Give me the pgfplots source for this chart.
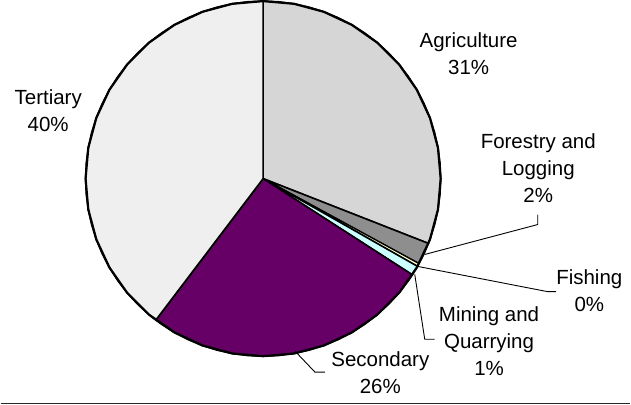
\documentclass[border=0pt]{standalone}
\usepackage{fontspec}
\setmainfont{Liberation Sans}
\usepackage{pgfplots}
\pgfplotsset{compat=1.18}
\usepgfplotslibrary{polar}
\definecolor{agri}{HTML}{D6D6D6}
\definecolor{forest}{HTML}{8E8E8E}
\definecolor{fish}{HTML}{FFFFCC}
\definecolor{mining}{HTML}{CCFFFF}
\definecolor{second}{HTML}{660066}
\definecolor{tert}{HTML}{EFEFEF}
\begin{document}
\begin{tikzpicture}
\begin{axis}[
  x=1bp, y=1bp,
  xmin=-263, xmax=368, ymin=-227, ymax=179,
  hide axis, clip=false,
  every axis plot/.append style={line join=round},
]
% Shares (percent): Agriculture 31.0, Forestry and Logging 2.0, Fishing 0.3,
% Mining and Quarrying 0.9, Secondary 26.2, Tertiary 39.7 -- as polar angles, radius 178
\addplot[data cs=polar, fill=agri, draw=black, line width=1.6bp] coordinates {
 (0,0) (90,178) (85,178) (80,178) (75,178) (70,178) (65,178) (60,178) (55,178) (50,178)
 (45,178) (40,178) (35,178) (30,178) (25,178) (20,178) (15,178) (10,178) (5,178) (0,178)
 (-5,178) (-10,178) (-15,178) (-20,178) (-21.4,178) (0,0)} -- cycle;
\addplot[data cs=polar, fill=forest, draw=black, line width=1.6bp] coordinates {
 (0,0) (-21.4,178) (-25,178) (-28.6,178) (0,0)} -- cycle;
\addplot[data cs=polar, fill=fish, draw=black, line width=1.2bp] coordinates {
 (0,0) (-28.6,178) (-29.6,178) (0,0)} -- cycle;
\addplot[data cs=polar, fill=mining, draw=black, line width=1.6bp] coordinates {
 (0,0) (-29.6,178) (-31.2,178) (-32.8,178) (0,0)} -- cycle;
\addplot[data cs=polar, fill=second, draw=black, line width=1.6bp] coordinates {
 (0,0) (-32.8,178) (-35,178) (-40,178) (-45,178) (-50,178) (-55,178) (-60,178) (-65,178)
 (-70,178) (-75,178) (-80,178) (-85,178) (-90,178) (-95,178) (-100,178) (-105,178)
 (-110,178) (-115,178) (-120,178) (-125,178) (-127.2,178) (0,0)} -- cycle;
\addplot[data cs=polar, fill=tert, draw=black, line width=1.6bp] coordinates {
 (0,0) (-127.2,178) (-130,178) (-135,178) (-140,178) (-145,178) (-150,178) (-155,178)
 (-160,178) (-165,178) (-170,178) (-175,178) (-180,178) (-185,178) (-190,178) (-195,178)
 (-200,178) (-205,178) (-210,178) (-215,178) (-220,178) (-225,178) (-230,178) (-235,178)
 (-240,178) (-245,178) (-250,178) (-255,178) (-260,178) (-265,178) (-270,178) (0,0)} -- cycle;
% outer rim emphasis
\addplot[data cs=polar, draw=black, line width=2.2bp, no marks] coordinates {
 (90,178) (80,178) (70,178) (60,178) (50,178) (40,178) (30,178) (20,178) (10,178) (0,178)
 (-10,178) (-20,178) (-30,178) (-40,178) (-50,178) (-60,178) (-70,178) (-80,178) (-90,178)
 (-100,178) (-110,178) (-120,178) (-130,178) (-140,178) (-150,178) (-160,178) (-170,178)
 (-180,178) (-190,178) (-200,178) (-210,178) (-220,178) (-230,178) (-240,178) (-250,178)
 (-260,178) (-270,178)};
% leader lines
\addplot[black, line width=0.9bp, no marks] coordinates {(162,-76) (275.3,-46) (275.3,-36)};
\addplot[black, line width=0.9bp, no marks] coordinates {(155,-88) (285.3,-113.3) (293.7,-113.3)};
\addplot[black, line width=0.9bp, no marks] coordinates {(152,-96) (162,-161) (172,-161)};
\addplot[black, line width=0.9bp, no marks] coordinates {(32,-173) (52,-194) (62,-194)};
% bottom rule
\addplot[black!85, line width=1.6bp, no marks] coordinates {(-263,-225.5) (368,-225.5)};
% labels
\begin{scope}[every node/.style={align=center, font=\fontsize{20.6}{27}\selectfont, inner sep=0pt}]
\node at (axis cs:206,125.5) {Agriculture\\31\%};
\node at (axis cs:275.8,10.5) {Forestry and\\Logging\\2\%};
\node at (axis cs:327,-112.7) {Fishing\\0\%};
\node at (axis cs:226.5,-162.7) {Mining and\\Quarrying\\1\%};
\node at (axis cs:117.5,-194.3) {Secondary\\26\%};
\node at (axis cs:-215.5,68.5) {Tertiary\\40\%};
\end{scope}
\end{axis}
\end{tikzpicture}
\end{document}
